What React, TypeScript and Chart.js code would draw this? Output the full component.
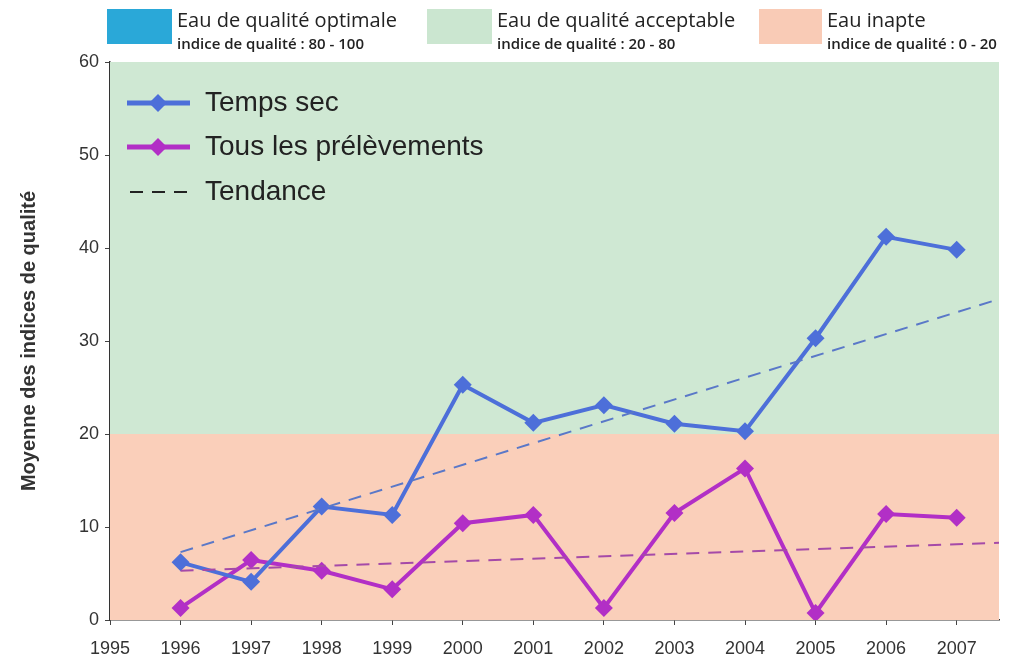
import React, { useEffect, useRef } from "react";
import { Chart, registerables } from "chart.js";

Chart.register(...registerables);

const years = [1996, 1997, 1998, 1999, 2000, 2001, 2002, 2003, 2004, 2005, 2006, 2007];
const tempsSec = [6.2, 4.1, 12.2, 11.3, 25.3, 21.2, 23.1, 21.1, 20.3, 30.3, 41.2, 39.8];
const tousPrelevements = [1.3, 6.45, 5.3, 3.3, 10.4, 11.3, 1.3, 11.5, 16.3, 0.75, 11.4, 11.0];
const trendX = [1996, 2007.6];
const trendTempsSec = [7.3, 34.5];
const trendTous = [5.3, 8.3];
const yTicks = [0, 10, 20, 30, 40, 50, 60];
const xMin = 1995;
const xMax = 2007.6;
const bands = [
  { from: 20, to: 60, color: "rgb(207,232,211)" },
  { from: 0, to: 20, color: "rgb(250,207,186)" },
];
const topLegend = [
  { title: "Eau de qualité optimale", sub: "indice de qualité : 80 - 100", color: "#2aa8d8" },
  { title: "Eau de qualité acceptable", sub: "indice de qualité : 20 - 80", color: "#cbe6d0" },
  { title: "Eau inapte", sub: "indice de qualité : 0 - 20", color: "#f9cbb6" },
];
const legendLabels = ["Temps sec", "Tous les prélèvements", "Tendance"];

const BLUE = "#4d6fd9";
const PURPLE = "#b22fc6";

const bandsPlugin = {
  id: "bands",
  beforeDatasetsDraw(chart: any) {
    const { ctx, chartArea, scales } = chart;
    ctx.save();
    bands.forEach((b) => {
      const y1 = scales.y.getPixelForValue(b.to);
      const y2 = scales.y.getPixelForValue(b.from);
      ctx.fillStyle = b.color;
      ctx.fillRect(chartArea.left, y1, chartArea.right - chartArea.left, y2 - y1);
    });
    ctx.restore();
  },
};

const innerLegendPlugin = {
  id: "innerLegend",
  afterDatasetsDraw(chart: any) {
    const { ctx } = chart;
    const rows = [103, 147, 192];
    const x1 = 127, x2 = 190, xm = 158, tx = 205;
    ctx.save();
    ctx.font = "28px 'Liberation Sans', Arial, sans-serif";
    ctx.textBaseline = "middle";
    ctx.textAlign = "left";
    const colors = [BLUE, PURPLE];
    for (let i = 0; i < 2; i++) {
      const y = rows[i];
      ctx.strokeStyle = colors[i];
      ctx.lineWidth = 5;
      ctx.setLineDash([]);
      ctx.beginPath();
      ctx.moveTo(x1, y);
      ctx.lineTo(x2, y);
      ctx.stroke();
      ctx.fillStyle = colors[i];
      ctx.beginPath();
      ctx.moveTo(xm, y - 9);
      ctx.lineTo(xm + 9, y);
      ctx.lineTo(xm, y + 9);
      ctx.lineTo(xm - 9, y);
      ctx.closePath();
      ctx.fill();
    }
    ctx.strokeStyle = "#222";
    ctx.lineWidth = 2;
    ctx.setLineDash([13, 9]);
    ctx.beginPath();
    ctx.moveTo(130, rows[2]);
    ctx.lineTo(190, rows[2]);
    ctx.stroke();
    ctx.setLineDash([]);
    ctx.fillStyle = "#222";
    legendLabels.forEach((l, i) => ctx.fillText(l, tx, rows[i]));
    ctx.restore();
  },
};

export default function App() {
  const ref = useRef<HTMLCanvasElement | null>(null);
  useEffect(() => {
    if (!ref.current) return;
    const chart = new Chart(ref.current, {
      type: "line",
      data: {
        datasets: [
          {
            label: "Tendance Temps sec",
            data: trendX.map((x, i) => ({ x, y: trendTempsSec[i] })),
            borderColor: "#5a78c8",
            borderWidth: 2,
            borderDash: [13, 9],
            pointRadius: 0,
            fill: false,
          },
          {
            label: "Tendance Tous",
            data: trendX.map((x, i) => ({ x, y: trendTous[i] })),
            borderColor: "#a54aa8",
            borderWidth: 2,
            borderDash: [13, 9],
            pointRadius: 0,
            fill: false,
          },
          {
            label: "Temps sec",
            data: years.map((x, i) => ({ x, y: tempsSec[i] })),
            borderColor: BLUE,
            backgroundColor: BLUE,
            borderWidth: 4,
            pointStyle: "rectRot",
            pointRadius: 9,
            pointBorderWidth: 0,
            fill: false,
          },
          {
            label: "Tous les prélèvements",
            data: years.map((x, i) => ({ x, y: tousPrelevements[i] })),
            borderColor: PURPLE,
            backgroundColor: PURPLE,
            borderWidth: 4,
            pointStyle: "rectRot",
            pointRadius: 9,
            pointBorderWidth: 0,
            fill: false,
          },
        ],
      },
      options: {
        animation: false,
        responsive: false,
        layout: { padding: { left: 0, top: 62, right: 16, bottom: 0 } },
        plugins: {
          legend: { display: false },
          tooltip: { enabled: false },
        },
        scales: {
          x: {
            type: "linear",
            min: xMin,
            max: xMax,
            afterFit: (s: any) => {
              s.height = 41;
            },
            ticks: {
              stepSize: 1,
              includeBounds: false,
              autoSkip: false,
              maxRotation: 0,
              padding: 13,
              color: "#333",
              font: { family: "'Liberation Sans', Arial, sans-serif", size: 18 },
              callback: (v: any) => String(v),
            },
            grid: { drawOnChartArea: false, drawTicks: true, tickLength: 5, color: "#444" },
            border: { color: "#333", width: 1.5 },
          },
          y: {
            min: 0,
            max: 60,
            afterFit: (s: any) => {
              s.width = 110;
            },
            afterBuildTicks: (s: any) => {
              s.ticks = yTicks.map((v) => ({ value: v }));
            },
            ticks: {
              padding: 6,
              color: "#333",
              font: { family: "'Liberation Sans', Arial, sans-serif", size: 18 },
            },
            grid: { drawOnChartArea: false, drawTicks: true, tickLength: 5, color: "#444" },
            border: { color: "#333", width: 1.5 },
            title: {
              display: true,
              text: "Moyenne des indices de qualité",
              color: "#333",
              padding: { top: 17, bottom: 0 },
              font: { family: "'Liberation Sans', Arial, sans-serif", size: 20, weight: "bold" },
            },
          },
        },
      },
      plugins: [bandsPlugin, innerLegendPlugin],
    } as any);
    return () => chart.destroy();
  }, []);

  const boxLeft = [107, 427, 759];
  const boxWidth = [65, 65, 63];
  return (
    <div style={{ position: "absolute", left: 0, top: 0, width: 1015, height: 661, background: "#fff", overflow: "hidden" }}>
      <canvas ref={ref} width={1015} height={661} style={{ position: "absolute", left: 0, top: 0, display: "block" }} />
      {topLegend.map((t, i) => (
        <React.Fragment key={i}>
          <div style={{ position: "absolute", left: boxLeft[i], top: 9, width: boxWidth[i], height: 35, background: t.color }} />
          <div
            style={{
              position: "absolute",
              left: boxLeft[i] + boxWidth[i] + 5,
              top: 10,
              fontFamily: "'Open Sans', 'Noto Sans', sans-serif",
              color: "#222",
              whiteSpace: "nowrap",
              lineHeight: 1,
            }}
          >
            <div style={{ fontSize: 20 }}>{t.title}</div>
            <div style={{ fontSize: 15, fontWeight: 600, marginTop: 6 }}>{t.sub}</div>
          </div>
        </React.Fragment>
      ))}
    </div>
  );
}
